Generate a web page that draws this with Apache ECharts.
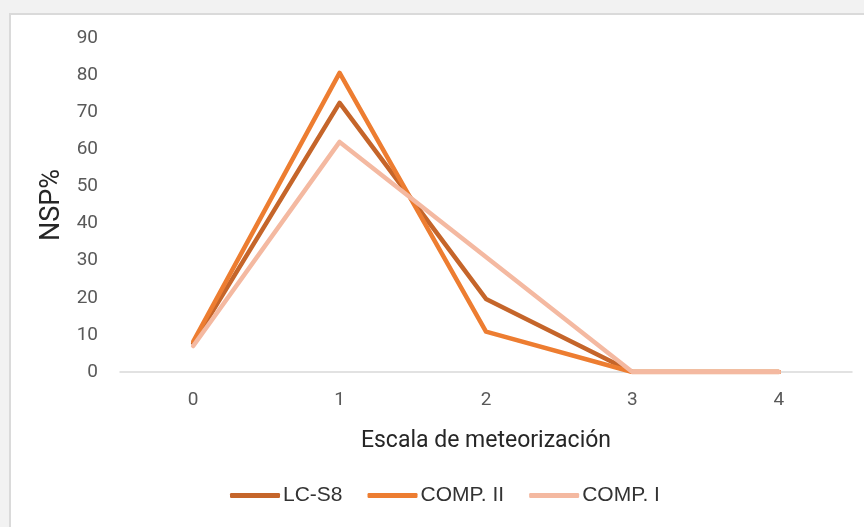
<!DOCTYPE html>
<html>
<head>
<meta charset="utf-8">
<script src="https://cdn.jsdelivr.net/npm/echarts@6/dist/echarts.min.js"></script>
<style>
  html, body { margin: 0; padding: 0; background: #f2f2f2; }
  #main { width: 864px; height: 527px; }
</style>
</head>
<body>
<div id="main"></div>
<script>
// escala de meteorización (categorías)
const categories = ["0", "1", "2", "3", "4"];
// NSP% por serie
const lcS8 = [7.8, 72.5, 19.7, 0, 0];
const compII = [8.2, 80.6, 10.9, 0, 0];
const compI = [7, 62, 31, 0, 0];

const seriesNames = ["LC-S8", "COMP. II", "COMP. I"];
const colors = ["#C5652A", "#ED7D31", "#F4B9A1"];

let myEcharts = echarts.init(document.getElementById("main"));
let option = {
  backgroundColor: "#f2f2f2",
  color: colors,
  textStyle: { fontFamily: "Roboto, Liberation Sans, Arial, sans-serif" },
  graphic: [
    {
      type: "rect",
      z: -10,
      shape: { x: 10, y: 14, width: 870, height: 530 },
      style: { fill: "#ffffff", stroke: "#dadada", lineWidth: 2 }
    }
  ],
  grid: {
    left: 120,
    right: 12,
    top: 38,
    bottom: 155
  },
  legend: {
    bottom: 16,
    left: 225,
    itemWidth: 50,
    itemHeight: 5,
    itemGap: 25,
    icon: "roundRect",
    textStyle: {
      fontSize: 21,
      fontFamily: "Liberation Sans, Arial, sans-serif",
      color: "#333333",
      padding: [0, 0, 0, -2]
    },
    data: seriesNames
  },
  xAxis: {
    type: "category",
    data: categories,
    boundaryGap: true,
    name: "Escala de meteorización",
    nameLocation: "middle",
    nameGap: 58,
    nameTextStyle: { fontSize: 23, color: "#262626" },
    axisLine: { lineStyle: { color: "#d9d9d9", width: 1.5 } },
    axisTick: { show: false },
    axisLabel: { fontSize: 19, color: "#595959", margin: 19 }
  },
  yAxis: {
    type: "value",
    min: 0,
    max: 90,
    interval: 10,
    name: "NSP%",
    nameLocation: "middle",
    nameGap: 50,
    nameRotate: 90,
    nameTextStyle: { fontSize: 27, color: "#262626" },
    axisLine: { show: false },
    axisTick: { show: false },
    splitLine: { show: false },
    axisLabel: { fontSize: 19, color: "#595959", margin: 22 }
  },
  series: [
    {
      name: seriesNames[0],
      type: "line",
      data: lcS8,
      symbol: "none",
      lineStyle: { width: 4.5, cap: "round", join: "round" },
      z: 3
    },
    {
      name: seriesNames[1],
      type: "line",
      data: compII,
      symbol: "none",
      lineStyle: { width: 4.5, cap: "round", join: "round" },
      z: 4
    },
    {
      name: seriesNames[2],
      type: "line",
      data: compI,
      symbol: "none",
      lineStyle: { width: 4.5, cap: "round", join: "round" },
      z: 5
    }
  ]
};
myEcharts.setOption(option);
</script>
</body>
</html>
